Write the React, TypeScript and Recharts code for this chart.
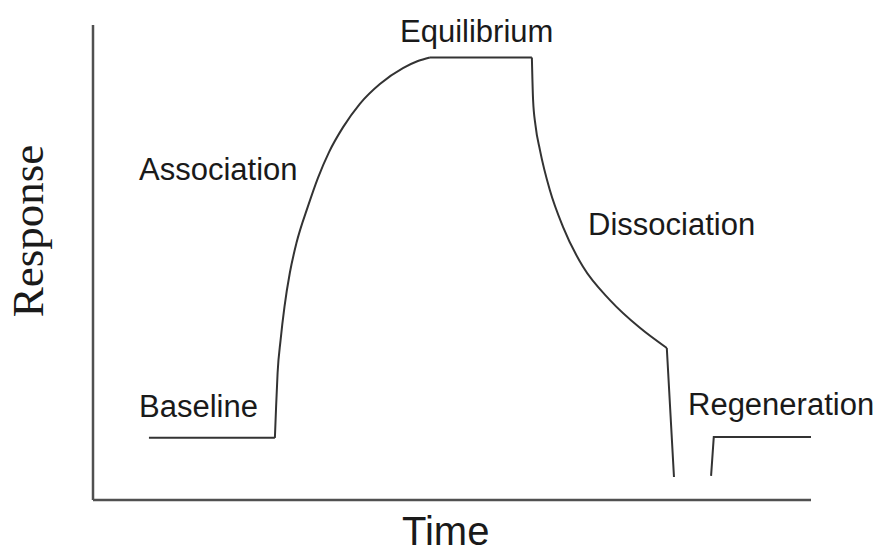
import React from "react";
import { LineChart, Line, XAxis, YAxis } from "recharts";

// sensorgram trace (arbitrary units: time, response)
// association and dissociation are smooth curves, the rest are straight steps
const associationTime = [
  60.8, 61.2, 61.7, 62.7, 64.0, 65.8, 68.0, 71.9, 75.2, 78.9, 83.6, 89.2, 95.9,
  103.6, 108.6, 112.6,
];
const associationResp = [
  15.7, 23.5, 32.1, 40.4, 48.8, 57.4, 64.9, 74.3, 81.4, 87.9, 94.2, 100.1,
  105.1, 109.1, 110.9, 111.8,
];

const dissociationTime = [146.7, 147.1, 147.9, 149.4, 152.7, 157.1, 163.8, 172.8, 182.8, 191.8];
const dissociationResp = [111.8, 101.1, 94.7, 88.4, 78.3, 69.0, 58.9, 50.5, 43.5, 38.4];

// baseline, equilibrium plateau, regeneration drop, new baseline (null = gap)
const stepTime = [18.7, 60.8, 100, 112.6, 146.7, 170, 191.8, 194.2, 200, 206.6, 207.5, 240];
const stepResp: (number | null)[] = [15.7, 15.7, null, 111.8, 111.8, null, 38.4, 5.8, null, 6.1, 15.9, 15.9];

const phaseLabels = ["Equilibrium", "Association", "Dissociation", "Baseline", "Regeneration"];
const phaseLabelPos = [
  { x: 400, y: 42 },
  { x: 139, y: 180 },
  { x: 588, y: 235 },
  { x: 139, y: 417 },
  { x: 688, y: 415 },
];

const W = 875;
const H = 554;

const toRows = (ts: number[], rs: (number | null)[]) => ts.map((t, i) => ({ t, r: rs[i] }));

export default function App() {
  const association = toRows(associationTime, associationResp);
  const dissociation = toRows(dissociationTime, dissociationResp);
  const steps = toRows(stepTime, stepResp);
  const axisStyle = { stroke: "#505050", strokeWidth: 2.5 };
  const lineProps = {
    dataKey: "r",
    stroke: "#333",
    strokeWidth: 2,
    dot: false,
    activeDot: false,
    isAnimationActive: false,
  };

  return (
    <div style={{ position: "relative", width: W, height: H, background: "#fff" }}>
      <style>{"body{margin:0}"}</style>
      <LineChart width={W} height={H} margin={{ top: 25, right: 64, bottom: 53, left: 92 }}>
        <XAxis
          dataKey="t"
          type="number"
          domain={[0, 240]}
          height={1}
          tick={false}
          tickLine={false}
          axisLine={axisStyle}
          allowDuplicatedCategory={false}
        />
        <YAxis
          type="number"
          domain={[0, 120]}
          width={1}
          tick={false}
          tickLine={false}
          axisLine={axisStyle}
        />
        <Line {...lineProps} data={steps} type="linear" connectNulls={false} />
        <Line {...lineProps} data={association} type="monotone" />
        <Line {...lineProps} data={dissociation} type="monotone" />
      </LineChart>
      <svg
        width={W}
        height={H}
        style={{ position: "absolute", left: 0, top: 0, pointerEvents: "none" }}
      >
        {phaseLabels.map((txt, i) => (
          <text
            key={txt}
            x={phaseLabelPos[i].x}
            y={phaseLabelPos[i].y}
            fontFamily="'Liberation Sans', Arial, sans-serif"
            fontSize={31}
            fill="#1a1a1a"
          >
            {txt}
          </text>
        ))}
        <text
          x={402}
          y={545}
          fontFamily="'Liberation Sans', Arial, sans-serif"
          fontSize={40}
          fill="#1a1a1a"
        >
          Time
        </text>
        <text
          transform="translate(43,231) rotate(-90)"
          textAnchor="middle"
          fontFamily="'Liberation Serif', 'Times New Roman', serif"
          fontSize={45}
          fill="#1a1a1a"
        >
          Response
        </text>
      </svg>
    </div>
  );
}
